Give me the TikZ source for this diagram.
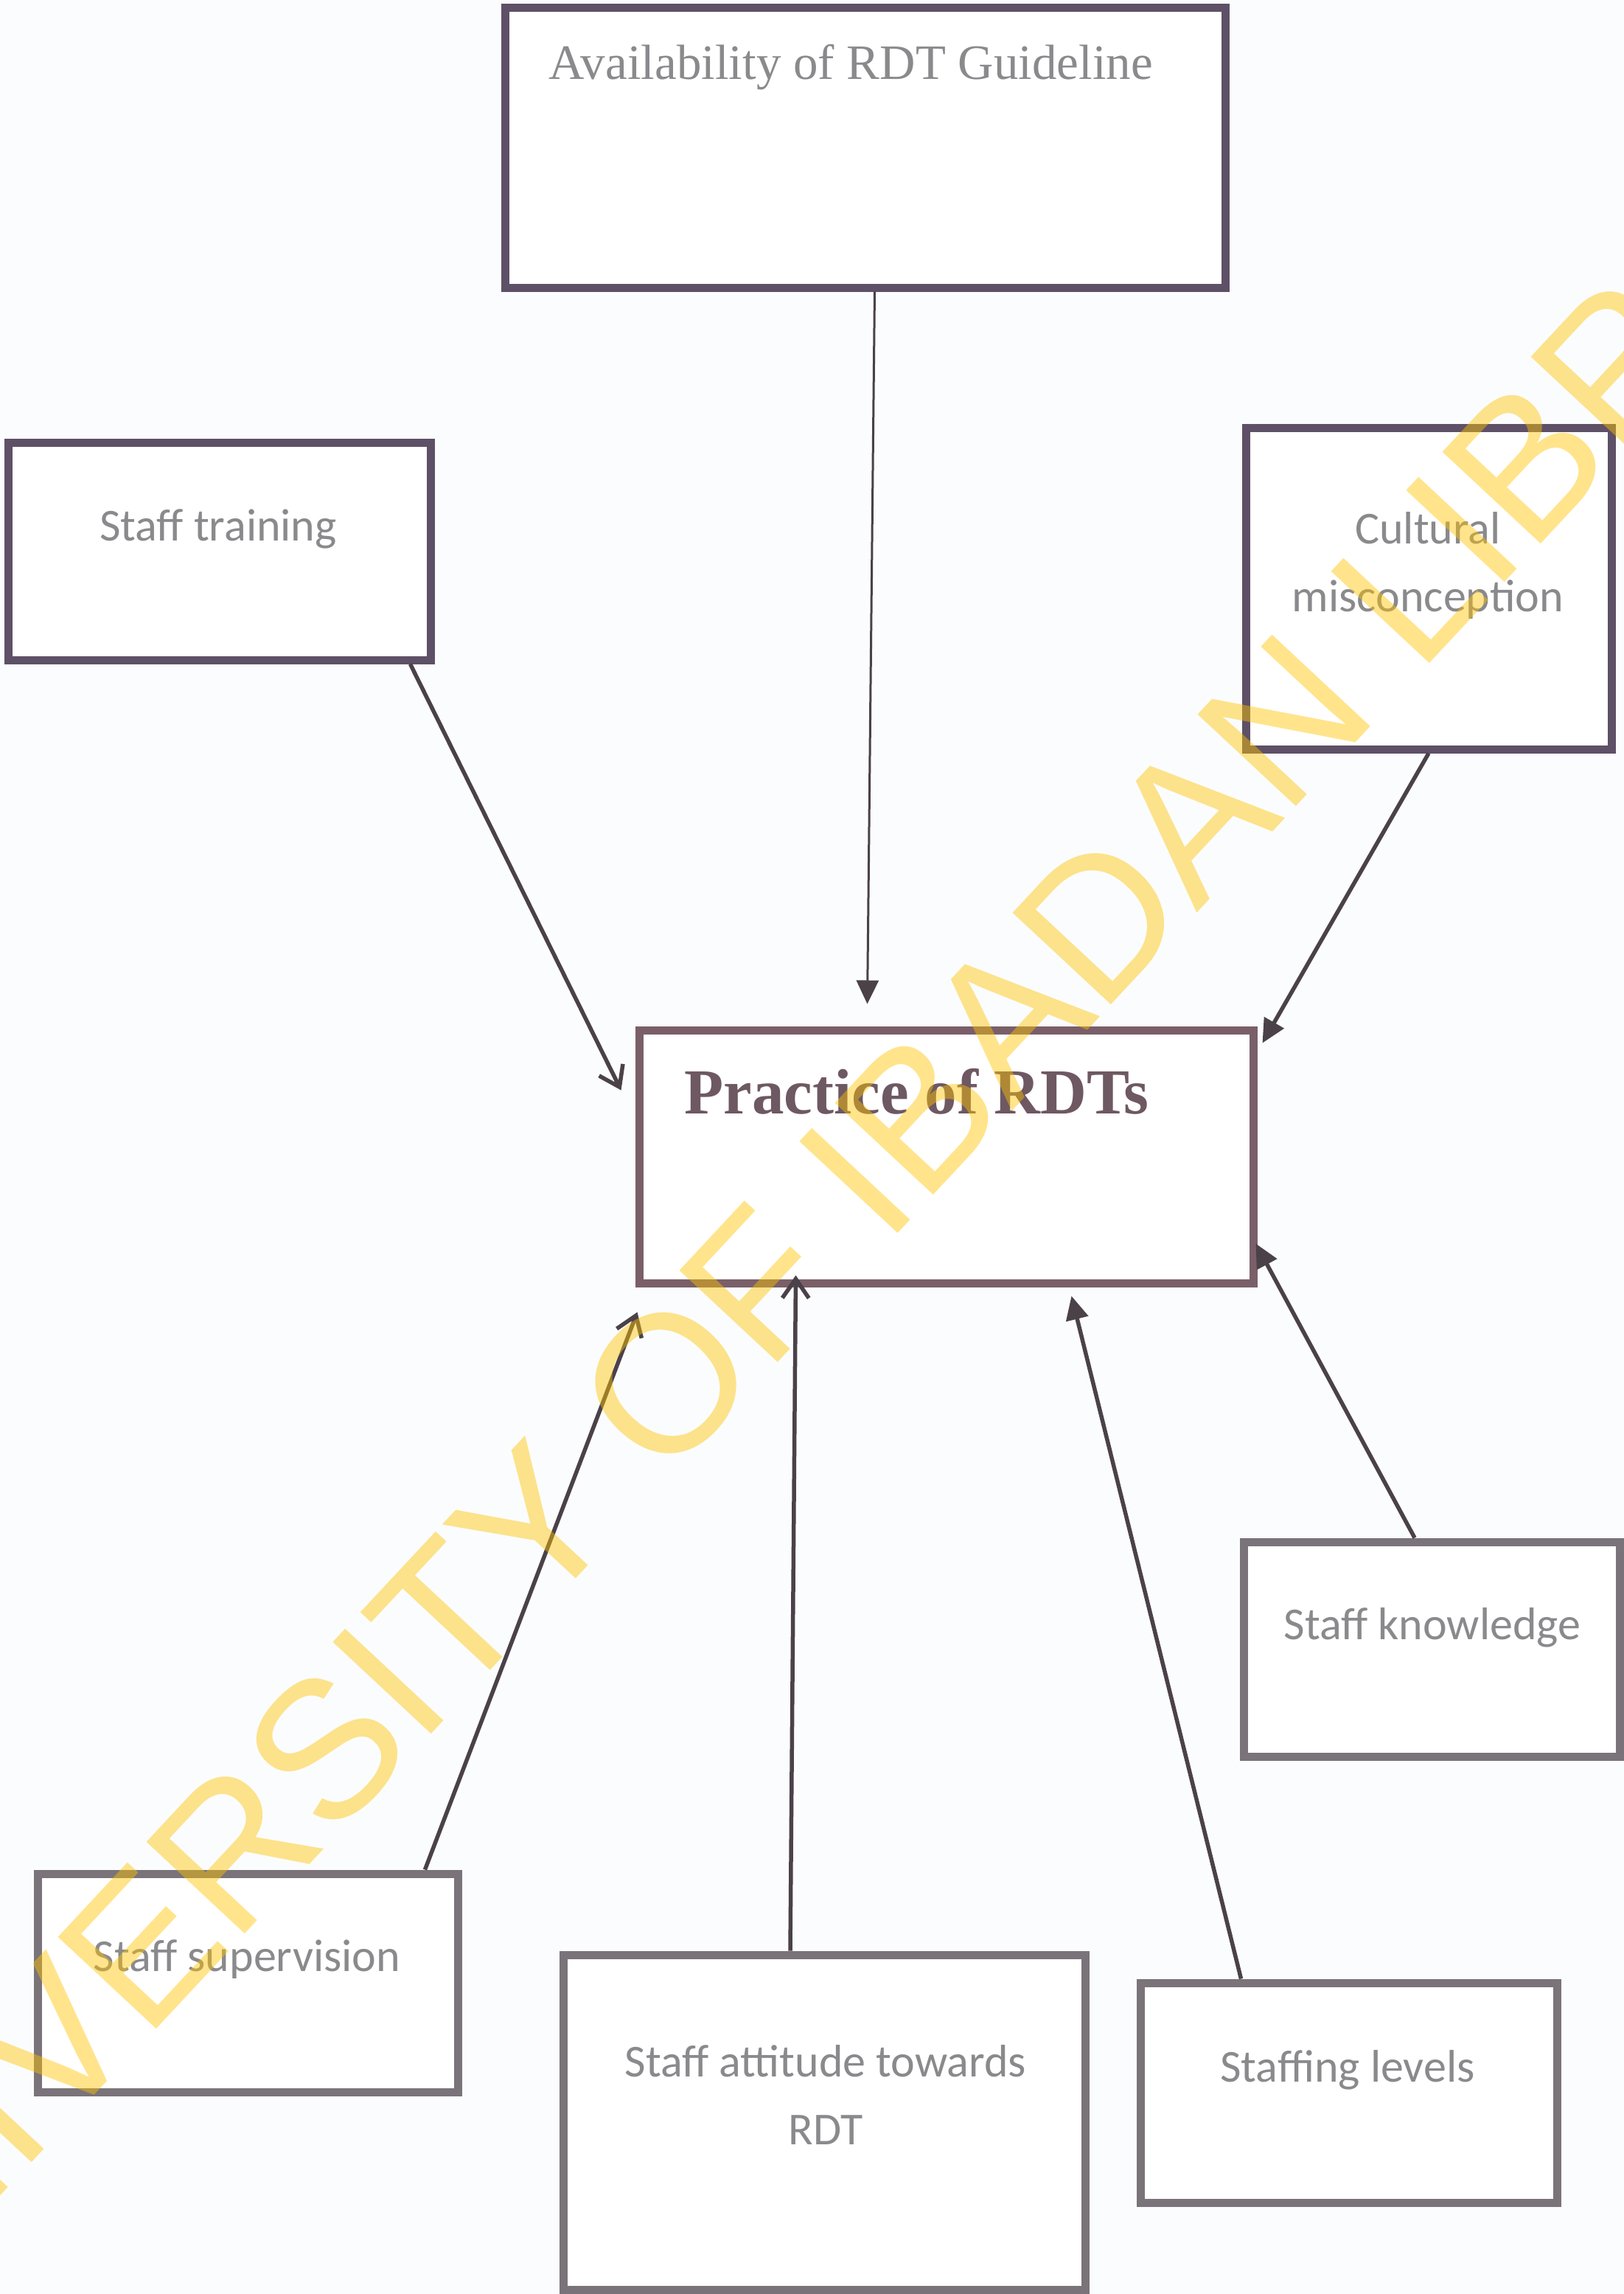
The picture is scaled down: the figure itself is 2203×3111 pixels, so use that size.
\documentclass[tikz,border=0pt]{standalone}
\usepackage{fontspec}
\setmainfont{Liberation Serif}
\newfontfamily\calfont{Carlito}
\newfontfamily\markfont{Liberation Sans}
\usetikzlibrary{arrows.meta,calc,positioning}
\definecolor{rdtPaper}{HTML}{FBFCFD}
\definecolor{rdtFrame}{HTML}{5E5066}
\definecolor{rdtFrameTwo}{HTML}{7A7379}
\definecolor{rdtCore}{HTML}{7A5F69}
\definecolor{rdtInk}{HTML}{4A4149}
\definecolor{rdtText}{HTML}{8A898C}
\definecolor{rdtCoreText}{HTML}{6E5862}
\definecolor{rdtMark}{HTML}{FFC400}

\begin{document}
\begin{tikzpicture}[x=1pt,y=-1pt,>=Latex,line join=miter]
\useasboundingbox (0,0) rectangle (2203,3111);
\clip (0,0) rectangle (2203,3111);
\path[fill=rdtPaper] (0,0) rectangle (2203,3111);
\tikzset{box/.style={draw=rdtFrame,fill=white,line width=11pt,inner sep=0pt},greybox/.style={box,draw=rdtFrameTwo},tag/.style={text=rdtText,font=\calfont\fontsize{62}{92}\selectfont,anchor=base,align=center},link/.style={draw=rdtInk,line width=5.5pt,-{Triangle[length=32pt,width=30pt]}},barb/.style={draw=rdtInk,line width=5.5pt,-{Straight Barb[length=26pt,width=36pt]}}}
\node[box,minimum width=977pt,minimum height=380pt] (avail) at (1173.5,200) {};
\node[box,minimum width=573pt,minimum height=295pt] (training) at (297.5,747.5) {};
\node[box,minimum width=496pt,minimum height=436pt] (cultural) at (1938,798) {};
\node[box,draw=rdtCore,line width=11pt,minimum width=833pt,minimum height=343pt] (practice) at (1283.5,1568.5) {};
\node[greybox,minimum width=510pt,minimum height=291pt] (knowledge) at (1942,2236.5) {};
\node[greybox,minimum width=565pt,minimum height=298pt] (staffing) at (1829.5,2838) {};
\node[greybox,minimum width=570pt,minimum height=296pt] (supervision) at (336,2689) {};
\node[greybox,minimum width=708pt,minimum height=454pt] (attitude) at (1118,2878) {};
\node[anchor=base west,text=rdtText,font=\fontsize{67}{80}\selectfont] (availTag) at (741,107) {Availability of RDT Guideline};
\node[anchor=base west,text=rdtCoreText,font=\bfseries\fontsize{87}{100}\selectfont] (practiceTag) at (925,1510) {Practice of RDTs};
\node[tag] (trainingTag) at (296,733) {Staff training};
\node[tag] (culturalTag) at (1937,829) {Cultural\\misconception};
\node[tag] (knowledgeTag) at (1943,2223) {Staff knowledge};
\node[tag] (staffingTag) at (1828,2823) {Staffing levels};
\node[tag] (supervisionTag) at (335,2673) {Staff supervision};
\node[tag] (attitudeTag) at (1120,2908) {Staff attitude towards\\RDT};
\draw[link,line width=3pt] ($(avail.south)+(13,0)$) -- ($(practice.north)+(-107,-30)$);
\draw[barb] ($(training.south east)+(-33,0)$) -- ($(practice.north west)+(-19,87)$);
\draw[link] (cultural.south) -- ($(practice.north east)+(7,23)$);
\draw[link] ($(knowledge.north)+(-23,0)$) -- ($(practice.south east)+(-2,-59)$);
\draw[barb] ($(supervision.north east)+(-50,0)$) -- ($(practice.south west)+(3,34)$);
\draw[barb] ($(attitude.north)+(-46,0)$) -- ($(practice.south)+(-204,-16)$);
\draw[link] ($(staffing.north west)+(142,0)$) -- ($(practice.south)+(170,12)$);
\node[rotate=47,anchor=base,text=rdtMark,text opacity=0.45,font=\markfont\fontsize{265}{265}\selectfont] (libMark) at (1230,1660) {UNIVERSITY OF IBADAN LIBRARY};
\end{tikzpicture}
\end{document}
